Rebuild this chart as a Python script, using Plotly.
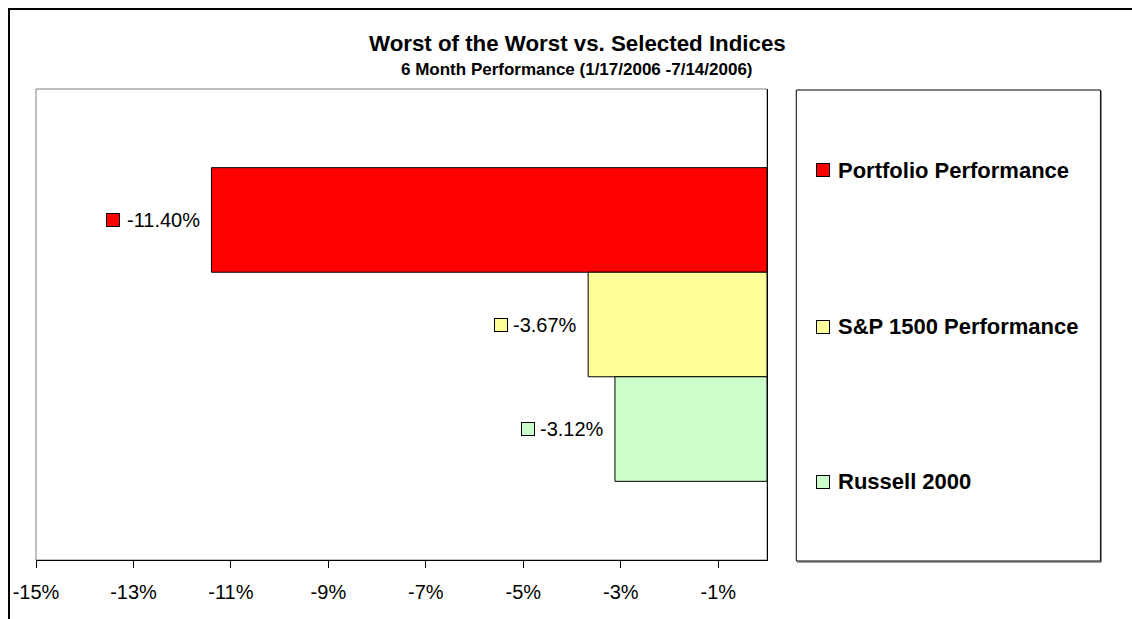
import plotly.graph_objects as go

# ---- data ----
series = ["Portfolio Performance", "S&P 1500 Performance", "Russell 2000"]
values = [-11.40, -3.67, -3.12]
value_labels = ["-11.40%", "-3.67%", "-3.12%"]
tick_values = [-15, -13, -11, -9, -7, -5, -3, -1]
tick_labels = ["-15%", "-13%", "-11%", "-9%", "-7%", "-5%", "-3%", "-1%"]
title_text = "Worst of the Worst vs. Selected Indices"
subtitle_text = "6 Month Performance (1/17/2006 -7/14/2006)"

# ---- style ----
colors = ["#FF0000", "#FFFF99", "#CCFFCC"]
FONT = "Arial, Liberation Sans, sans-serif"
W, H = 1132, 619
L, R, T, B = 36, 766.7, 89, 560


def px(x):
    return (x - L) / (R - L)


def py(y):
    return (B - y) / (B - T)


# Arial regular widths for label characters (em)
CW = {"-": 0.333, ".": 0.278, "%": 0.889}


def text_w(s, size):
    return sum(CW.get(ch, 0.556) for ch in s) * size


fig = go.Figure()
for name, v, c in zip(series, values, colors):
    fig.add_trace(go.Bar(
        y=["6M"], x=[v], name=name, orientation="h",
        marker=dict(color=c, line=dict(color="black", width=1)),
        showlegend=False, hoverinfo="x+name",
    ))

annotations = []
shapes = []

# titles
annotations.append(dict(x=px(577), y=py(43), xref="paper", yref="paper",
                        text="<b>" + title_text + "</b>", showarrow=False,
                        xanchor="center", yanchor="middle",
                        font=dict(family=FONT, size=22.3, color="black")))
annotations.append(dict(x=px(577), y=py(69), xref="paper", yref="paper",
                        text="<b>" + subtitle_text + "</b>", showarrow=False,
                        xanchor="center", yanchor="middle",
                        font=dict(family=FONT, size=17, color="black")))

# data labels (marker key + value), placed at bar end
n = len(series)
lab_size = 20
for i, (v, lab, c) in enumerate(zip(values, value_labels, colors)):
    yoff = (i - (n - 1) / 2) * 0.222  # group offset in category units
    tw = text_w(lab, lab_size)
    annotations.append(dict(x=v, y=yoff, xref="x", yref="y", text=lab,
                            showarrow=False, xanchor="right", yanchor="middle",
                            xshift=-9,
                            font=dict(family=FONT, size=lab_size, color="black")))
    annotations.append(dict(x=v, y=yoff, xref="x", yref="y", text=" ",
                            showarrow=False, xanchor="right", yanchor="middle",
                            xshift=-(9 + tw + 8), width=12, height=12,
                            bgcolor=c, bordercolor="black", borderwidth=1,
                            borderpad=0, font=dict(size=1)))

# legend (manual)
leg_y = [170, 326.7, 481.7]
for name, c, ly in zip(series, colors, leg_y):
    annotations.append(dict(x=px(816), y=py(ly), xref="paper", yref="paper",
                            text=" ", showarrow=False, xanchor="left",
                            yanchor="middle", width=12, height=12, bgcolor=c,
                            bordercolor="black", borderwidth=1, borderpad=0,
                            font=dict(size=1)))
    annotations.append(dict(x=px(836), y=py(ly), xref="paper", yref="paper",
                            text="<b>" + name + "</b>", showarrow=False,
                            xanchor="left", yanchor="middle",
                            font=dict(family=FONT, size=22, color="black")))

# plot-area border (grey), outer chart border, legend box
shapes.append(dict(type="rect", xref="paper", yref="paper", x0=0, x1=1, y0=0, y1=1,
                   line=dict(color="#808080", width=1), layer="below"))
shapes.append(dict(type="rect", xref="paper", yref="paper", x0=px(9), x1=px(1145),
                   y0=py(640), y1=py(9), line=dict(color="black", width=2)))
shapes.append(dict(type="rect", xref="paper", yref="paper", x0=px(796), x1=px(1100),
                   y0=py(561), y1=py(90), line=dict(color="black", width=1)))
shapes.append(dict(type="line", xref="paper", yref="paper", x0=px(1101), x1=px(1101),
                   y0=py(562), y1=py(91), line=dict(color="#808080", width=1)))
shapes.append(dict(type="line", xref="paper", yref="paper", x0=px(797), x1=px(1101),
                   y0=py(562), y1=py(562), line=dict(color="#404040", width=1)))

fig.update_layout(
    width=W, height=H,
    margin=dict(l=L, r=W - R, t=T, b=H - B, pad=0),
    paper_bgcolor="white", plot_bgcolor="white",
    barmode="group", bargap=0.334, bargroupgap=0,
    showlegend=False,
    font=dict(family=FONT, color="black"),
    xaxis=dict(range=[-15, 0], tickvals=tick_values, ticktext=tick_labels,
               ticks="outside", ticklen=7, tickwidth=1, tickcolor="black",
               ticklabelstandoff=7,
               showline=True, linecolor="black", linewidth=1,
               showgrid=False, zeroline=False,
               tickfont=dict(family=FONT, size=20, color="black")),
    yaxis=dict(type="category", range=[0.5, -0.5], showticklabels=False,
               side="right", showline=True, linecolor="black", linewidth=1,
               showgrid=False, zeroline=False, ticks=""),
    annotations=annotations, shapes=shapes,
)

fig.write_html("out.html",
               config={"displayModeBar": False},
               post_script="document.body.style.margin='0px';document.body.style.overflow='hidden';")
